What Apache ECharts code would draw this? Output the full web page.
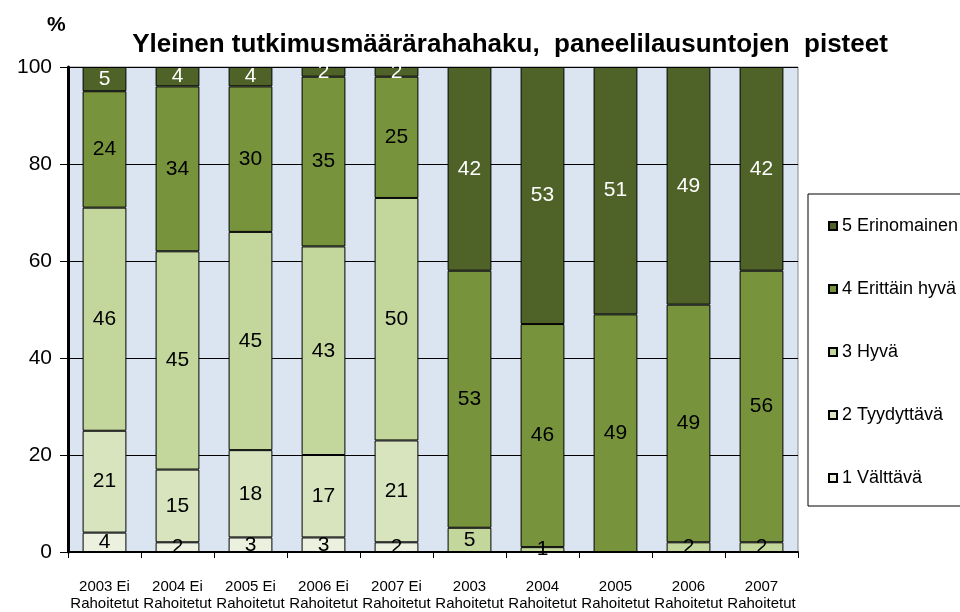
<!DOCTYPE html>
<html lang="fi">
<head>
    <meta charset="UTF-8">
    <title>Paneelilausuntojen pisteet</title>
    <script src="https://cdn.jsdelivr.net/npm/echarts@6/dist/echarts.min.js"></script>
    <style>
        html, body { margin: 0; padding: 0; background: #fff; }
    </style>
</head>
<body>
    <div id="main" style="width: 960px;height:612px;"></div>
    <script>
        // luokat ja sarjojen arvot (%)
        var categories = ['2003 Ei\nRahoitetut', '2004 Ei\nRahoitetut', '2005 Ei\nRahoitetut', '2006 Ei\nRahoitetut', '2007 Ei\nRahoitetut',
            '2003\nRahoitetut', '2004\nRahoitetut', '2005\nRahoitetut', '2006\nRahoitetut', '2007\nRahoitetut'];
        var valttava = [4, 2, 3, 3, 2, 0, 0, 0, 0, 0];
        var tyydyttava = [21, 15, 18, 17, 21, 0, 0, 0, 0, 0];
        var hyva = [46, 45, 45, 43, 50, 5, 1, 0, 2, 2];
        var erittainHyva = [24, 34, 30, 35, 25, 53, 46, 49, 49, 56];
        var erinomainen = [5, 4, 4, 2, 2, 42, 53, 51, 49, 42];
        var yTicks = [0, 20, 40, 60, 80, 100];

        var font = 'Arial, "Liberation Sans", sans-serif';

        function bar(name, data, color, labelColor) {
            return {
                name: name,
                type: 'bar',
                stack: 'pisteet',
                data: data,
                barCategoryGap: '40%',
                itemStyle: { color: color, borderColor: '#000', borderWidth: 1 },
                label: {
                    show: true,
                    position: 'inside',
                    color: labelColor,
                    fontFamily: font,
                    fontSize: 21,
                    formatter: function (p) { return p.value ? String(p.value) : ''; }
                }
            };
        }

        var myChart = echarts.init(document.getElementById('main'));
        myChart.setOption({
            animation: false,
            textStyle: { fontFamily: font },
            title: [{
                text: 'Yleinen tutkimusmäärärahahaku,  paneelilausuntojen  pisteet',
                left: 505, top: 27, textAlign: 'center',
                textStyle: { fontFamily: font, fontSize: 26, fontWeight: 'bold', color: '#000' }
            }, {
                text: '%',
                left: 42, top: 10,
                textStyle: { fontFamily: font, fontSize: 21, fontWeight: 'bold', color: '#000' }
            }],
            legend: {
                orient: 'vertical',
                left: 808, top: 194,
                padding: [23, 40, 19, 20],
                itemGap: 45,
                itemWidth: 8, itemHeight: 8,
                borderColor: '#000', borderWidth: 1,
                icon: 'rect',
                textStyle: { fontFamily: font, fontSize: 18, color: '#000' },
                data: ['5 Erinomainen', '4 Erittäin hyvä', '3 Hyvä', '2 Tyydyttävä', '1 Välttävä']
            },
            grid: {
                left: 68, right: 162, top: 67, bottom: 59,
                show: true, backgroundColor: '#dbe5f1', borderColor: '#888', borderWidth: 1
            },
            xAxis: {
                type: 'category',
                data: categories,
                axisLine: { lineStyle: { color: '#000', width: 2 } },
                axisTick: { show: true, length: 6, lineStyle: { color: '#000' } },
                axisLabel: { color: '#000', fontSize: 15, lineHeight: 17, margin: 26, interval: 0 }
            },
            yAxis: {
                type: 'value',
                min: yTicks[0], max: yTicks[yTicks.length - 1], interval: 20,
                axisLine: { show: true, lineStyle: { color: '#000', width: 3 } },
                axisTick: { show: true, length: 8, lineStyle: { color: '#000', width: 1 } },
                splitLine: { lineStyle: { color: '#000', width: 1 } },
                axisLabel: { color: '#000', fontSize: 21, margin: 16 }
            },
            series: [
                bar('1 Välttävä', valttava, '#ebf1de', '#000'),
                bar('2 Tyydyttävä', tyydyttava, '#d7e4bd', '#000'),
                bar('3 Hyvä', hyva, '#c3d69b', '#000'),
                bar('4 Erittäin hyvä', erittainHyva, '#77933c', '#000'),
                bar('5 Erinomainen', erinomainen, '#4f6228', '#fff')
            ]
        });
    </script>
</body>
</html>
